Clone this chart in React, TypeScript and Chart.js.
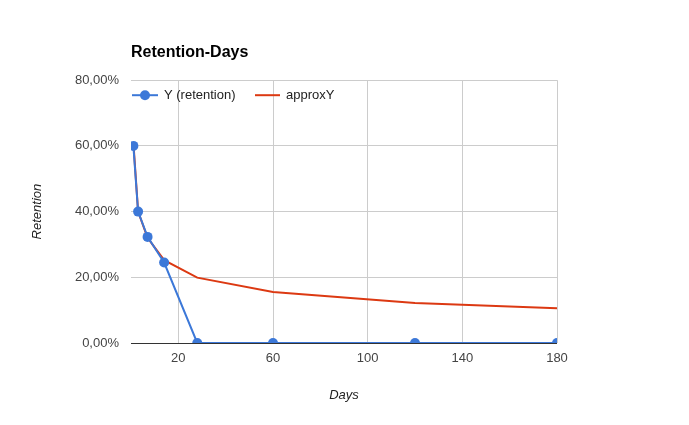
import React, { useRef, useEffect } from 'react';
import { Chart, registerables } from 'chart.js';

Chart.register(...registerables);

// values
const days = [1, 3, 7, 14, 28, 60, 120, 180];
const retention = [0.6, 0.4, 0.323, 0.245, 0, 0, 0, 0];
const approxY = [0.611, 0.4, 0.32, 0.252, 0.199, 0.155, 0.122, 0.106];
const xTicks = [20, 60, 100, 140, 180];
const yTicks = [0, 0.2, 0.4, 0.6, 0.8];

const BLUE = '#3c78d8';
const RED = '#dc3912';
const FONT = '"Liberation Sans", Arial, sans-serif';

const fmtPct = (v: number) => (v * 100).toFixed(2).replace('.', ',') + '%';

// legend drawn inside the plot, like the Google chart it copies
const insideLegend = {
  id: 'insideLegend',
  afterDraw(chart: Chart) {
    const { ctx, chartArea } = chart;
    const y = chartArea.top + 15;
    const l = chartArea.left;
    ctx.save();
    ctx.lineWidth = 2;
    ctx.strokeStyle = BLUE;
    ctx.beginPath();
    ctx.moveTo(l + 1, y);
    ctx.lineTo(l + 27, y);
    ctx.stroke();
    ctx.fillStyle = BLUE;
    ctx.beginPath();
    ctx.arc(l + 14, y, 5, 0, Math.PI * 2);
    ctx.fill();
    ctx.strokeStyle = RED;
    ctx.beginPath();
    ctx.moveTo(l + 124, y);
    ctx.lineTo(l + 149, y);
    ctx.stroke();
    ctx.fillStyle = '#222';
    ctx.font = `13px ${FONT}`;
    ctx.textBaseline = 'middle';
    ctx.fillText('Y (retention)', l + 33, y);
    ctx.fillText('approxY', l + 155, y);
    ctx.restore();
  },
};

const App: React.FC = () => {
  const canvasRef = useRef<HTMLCanvasElement>(null);
  const chartRef = useRef<Chart | null>(null);

  useEffect(() => {
    document.body.style.margin = '0';
    if (!canvasRef.current) return;
    if (chartRef.current) chartRef.current.destroy();

    chartRef.current = new Chart(canvasRef.current, {
      type: 'line',
      data: {
        datasets: [
          {
            label: 'Y (retention)',
            data: days.map((d, i) => ({ x: d, y: retention[i] })),
            borderColor: BLUE,
            backgroundColor: BLUE,
            borderWidth: 2,
            pointRadius: 5,
            pointBorderWidth: 0,
            tension: 0,
          },
          {
            label: 'approxY',
            data: days.map((d, i) => ({ x: d, y: approxY[i] })),
            borderColor: RED,
            backgroundColor: RED,
            borderWidth: 2,
            pointRadius: 0,
            tension: 0,
          },
        ],
      },
      options: {
        responsive: false,
        animation: false,
        layout: { padding: { left: 0, right: 132, top: 0, bottom: 0 } },
        plugins: {
          legend: { display: false },
          tooltip: { enabled: false },
          title: {
            display: true,
            text: 'Retention-Days',
            align: 'start',
            fullSize: false,
            color: '#000',
            font: { family: FONT, size: 16, weight: 'bold' },
            padding: { top: 43, bottom: 18 },
          },
        },
        scales: {
          x: {
            type: 'linear',
            min: 0,
            max: 180,
            afterBuildTicks: (s: any) => {
              s.ticks = xTicks.map((v) => ({ value: v }));
            },
            afterFit: (s: any) => {
              s.height = 82;
            },
            ticks: {
              padding: 8,
              color: '#444',
              font: { family: FONT, size: 13 },
            },
            grid: { color: '#ccc', drawTicks: false },
            border: { display: false },
            title: {
              display: true,
              text: 'Days',
              color: '#222',
              font: { family: FONT, size: 13, style: 'italic' },
              padding: { top: 0, bottom: 22 },
            },
          },
          y: {
            min: 0,
            max: 0.8,
            afterBuildTicks: (s: any) => {
              s.ticks = yTicks.map((v) => ({ value: v }));
            },
            afterFit: (s: any) => {
              s.width = 131;
            },
            ticks: {
              padding: 12,
              color: '#444',
              font: { family: FONT, size: 13 },
              callback: (v: any) => fmtPct(Number(v)),
            },
            grid: {
              drawTicks: false,
              color: (c: any) => (c.tick && c.tick.value === 0 ? '#333' : '#ccc'),
            },
            border: { display: false },
            title: {
              display: true,
              text: 'Retention',
              color: '#222',
              font: { family: FONT, size: 13, style: 'italic' },
              padding: { top: 30, bottom: 0 },
            },
          },
        },
      },
      plugins: [insideLegend],
    });

    return () => {
      if (chartRef.current) {
        chartRef.current.destroy();
        chartRef.current = null;
      }
    };
  }, []);

  return (
    <div style={{ width: 689, height: 425, position: 'relative' }}>
      <canvas ref={canvasRef} width={689} height={425} />
    </div>
  );
};

export default App;
